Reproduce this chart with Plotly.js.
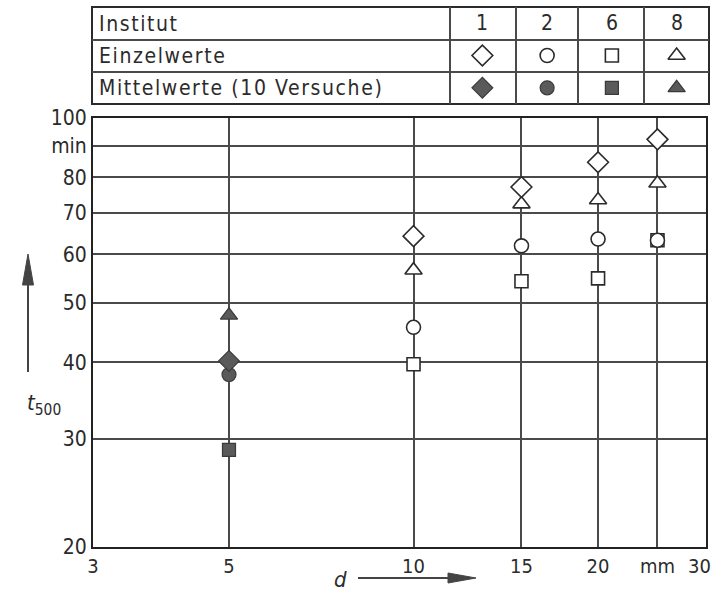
<!DOCTYPE html>
<html>
<head>
<meta charset="utf-8">
<script src="https://cdn.plot.ly/plotly-3.0.1.min.js"></script>
<style>
html,body{margin:0;padding:0;background:#fff;}
#chart{width:715px;height:591px;}
</style>
</head>
<body>
<div id="chart"></div>
<script>
// ---- data ----
const dEinzel = [10, 15, 20, 25];           // mm
const einzel1 = [64.2, 77.2, 84.7, 92.3];   // Institut 1
const einzel2 = [45.6, 61.9, 63.5, 63.2];   // Institut 2
const einzel6 = [39.7, 54.2, 54.8, 63.2];   // Institut 6
const einzel8 = [56.5, 72.4, 73.5, 78.3];   // Institut 8

const dMittel = [5];
const mittel1 = [40.2];
const mittel2 = [38.2];
const mittel6 = [28.8];
const mittel8 = [47.7];

const institute = ['1', '2', '6', '8'];
const symbols = ['diamond', 'circle', 'square', 'triangle-up'];
const rowLabels = ['Institut', 'Einzelwerte', 'Mittelwerte (10 Versuche)'];

const xTickVals = [3, 5, 10, 15, 20, 25];
const xTickText = ['3', '5', '10', '15', '20', 'mm'];
const xEndTick = 30;             // last tick, labelled right-aligned at the frame edge
const xEndLabel = '30';
const yTickVals = [20, 30, 40, 50, 60, 70, 80, 90, 100];
const yTickText = ['20', '30', '40', '50', '60', '70', '80', 'min', '100'];

// ---- styling ----
const FONT = 'Liberation Sans Narrow, DejaVu Sans Condensed, Arial Narrow, sans-serif';
const INK = '#2b2b2b';
const FILL = '#5a5a5a';
const GRID = '#4a4a4a';
const W = 715, H = 591;
const px = v => v / W;
const py = v => 1 - v / H;

const sizes = {diamond: 16, circle: 14, square: 13, 'triangle-up': 15};

function openTrace(x, y, sym) {
  return {x: x, y: y, type: 'scatter', mode: 'markers', xaxis: 'x', yaxis: 'y',
    marker: {symbol: sym, size: sizes[sym], color: '#fff', line: {color: INK, width: 1.6}},
    hoverinfo: 'skip', showlegend: false};
}
function filledTrace(x, y, sym) {
  return {x: x, y: y, type: 'scatter', mode: 'markers', xaxis: 'x', yaxis: 'y',
    marker: {symbol: sym, size: sizes[sym], color: FILL, line: {color: '#3a3a3a', width: 1.2}},
    hoverinfo: 'skip', showlegend: false};
}

const traces = [
  openTrace(dEinzel, einzel6, 'square'),
  openTrace(dEinzel, einzel2, 'circle'),
  openTrace(dEinzel, einzel8, 'triangle-up'),
  openTrace(dEinzel, einzel1, 'diamond'),
  filledTrace(dMittel, mittel6, 'square'),
  filledTrace(dMittel, mittel2, 'circle'),
  filledTrace(dMittel, mittel8, 'triangle-up'),
  filledTrace(dMittel, mittel1, 'diamond'),
];

// legend table markers on an auxiliary axis (columns = institutes, rows 1.5 / 0.5)
const colIdx = institute.map((_, i) => i + 0.5);
symbols.forEach((sym, i) => {
  traces.push({x: [colIdx[i]], y: [1.5], type: 'scatter', mode: 'markers', xaxis: 'x2', yaxis: 'y2',
    marker: {symbol: sym, size: sizes[sym], color: '#fff', line: {color: INK, width: 1.6}},
    hoverinfo: 'skip', showlegend: false});
  traces.push({x: [colIdx[i]], y: [0.5], type: 'scatter', mode: 'markers', xaxis: 'x2', yaxis: 'y2',
    marker: {symbol: sym, size: sizes[sym], color: FILL, line: {color: '#3a3a3a', width: 1.2}},
    hoverinfo: 'skip', showlegend: false});
});

// table geometry (figure fractions)
const tblL = px(92), tblR = px(709);
const rowYs = [7, 40, 72, 104].map(py);
const colXs = [450, 516, 578, 644].map(px);

const shapes = [];
shapes.push({type: 'rect', xref: 'paper', yref: 'paper', x0: tblL, x1: tblR, y0: rowYs[3], y1: rowYs[0],
  line: {color: INK, width: 2}});
[rowYs[1], rowYs[2]].forEach(y => shapes.push({type: 'line', xref: 'paper', yref: 'paper',
  x0: tblL, x1: tblR, y0: y, y1: y, line: {color: GRID, width: 2}}));
colXs.forEach(x => shapes.push({type: 'line', xref: 'paper', yref: 'paper',
  x0: x, x1: x, y0: rowYs[3], y1: rowYs[0], line: {color: GRID, width: 2}}));

// axis arrows (drawn as line + filled head)
const ARROW = '#444';
function pathPx(pts) {
  return 'M' + pts.map(p => px(p[0]) + ',' + py(p[1])).join(' L') + ' Z';
}
shapes.push({type: 'line', xref: 'paper', yref: 'paper', x0: px(358), x1: px(450), y0: py(578), y1: py(578),
  line: {color: ARROW, width: 2}});
shapes.push({type: 'path', xref: 'paper', yref: 'paper', path: pathPx([[448, 573], [476, 578], [448, 583]]),
  fillcolor: ARROW, line: {color: ARROW, width: 1}});
shapes.push({type: 'line', xref: 'paper', yref: 'paper', x0: px(28), x1: px(28), y0: py(372), y1: py(283),
  line: {color: ARROW, width: 2}});
shapes.push({type: 'path', xref: 'paper', yref: 'paper', path: pathPx([[22.5, 285], [28, 254], [33.5, 285]]),
  fillcolor: ARROW, line: {color: ARROW, width: 1}});

const annotations = [];
rowLabels.forEach((t, i) => annotations.push({xref: 'paper', yref: 'paper', x: px(97),
  y: (rowYs[i] + rowYs[i + 1]) / 2, xanchor: 'left', yanchor: 'middle', showarrow: false,
  text: '<span style="letter-spacing:1.6px">' + t + '</span>', font: {family: FONT, size: 21, color: INK}}));
institute.forEach((t, i) => annotations.push({xref: 'x2', yref: 'y2', x: colIdx[i], y: 2.5,
  xanchor: 'center', yanchor: 'middle', showarrow: false, text: t,
  font: {family: FONT, size: 21, color: INK}}));

// last x tick label, kept inside the page
annotations.push({xref: 'x', yref: 'paper', x: Math.log10(xEndTick), y: py(566), xanchor: 'right', yanchor: 'middle',
  xshift: 7, showarrow: false, text: xEndLabel, font: {family: FONT, size: 20, color: INK}});

// axis titles
annotations.push({xref: 'paper', yref: 'paper', x: px(340), y: py(579), xanchor: 'center', yanchor: 'middle',
  showarrow: false, text: '<i>d</i>', font: {family: FONT, size: 22, color: INK}});
annotations.push({xref: 'paper', yref: 'paper', x: px(44), y: py(404), xanchor: 'center', yanchor: 'middle',
  showarrow: false, text: '<i>t</i><sub>500</sub>', font: {family: FONT, size: 22, color: INK}});

const layout = {
  width: W, height: H,
  margin: {l: 0, r: 0, t: 0, b: 0},
  paper_bgcolor: '#fff', plot_bgcolor: '#fff',
  showlegend: false,
  font: {family: FONT, color: INK, size: 20},
  xaxis: {
    type: 'log', domain: [px(93), px(706)], range: [Math.log10(3), Math.log10(30)],
    tickmode: 'array', tickvals: xTickVals, ticktext: xTickText, ticks: '',
    ticklabeloverflow: 'allow',
    showgrid: true, gridcolor: GRID, gridwidth: 2,
    showline: true, linecolor: '#222', linewidth: 2, mirror: true,
    zeroline: false, tickfont: {family: FONT, size: 20, color: INK}, anchor: 'y', fixedrange: true
  },
  yaxis: {
    type: 'log', domain: [py(547), py(118)], range: [Math.log10(20), 2],
    tickmode: 'array', tickvals: yTickVals, ticktext: yTickText, ticks: '',
    ticklabeloverflow: 'allow',
    showgrid: true, gridcolor: GRID, gridwidth: 2,
    showline: true, linecolor: '#222', linewidth: 2, mirror: true,
    zeroline: false, tickfont: {family: FONT, size: 21, color: INK}, anchor: 'x', fixedrange: true
  },
  xaxis2: {domain: [px(450), px(709)], range: [0, 4], visible: false, anchor: 'y2', fixedrange: true},
  yaxis2: {domain: [py(104), py(7)], range: [0, 3], visible: false, anchor: 'x2', fixedrange: true},
  shapes: shapes,
  annotations: annotations
};

Plotly.newPlot('chart', traces, layout, {displayModeBar: false, staticPlot: true});
</script>
</body>
</html>
